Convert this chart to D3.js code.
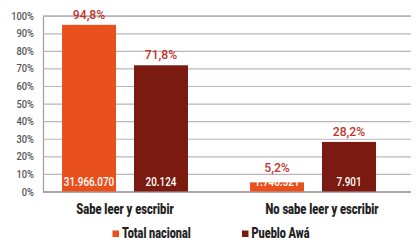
<!DOCTYPE html>
<html><head><meta charset="utf-8">
<script src="https://cdn.jsdelivr.net/npm/d3@7"></script>
<style>
html,body{margin:0;padding:0;background:#fff;}
svg{display:block;font-family:Roboto,"Noto Sans",sans-serif;}
</style></head>
<body>
<svg id="chart" width="417" height="251"></svg>
<script>
const categories = ["Sabe leer y escribir", "No sabe leer y escribir"];
const series = ["Total nacional", "Pueblo Awá"];
const percentTotal = [94.8, 5.2];
const percentAwa = [71.8, 28.2];
const countTotal = ["31.966.070", "1.746.521"];
const countAwa = ["20.124", "7.901"];
const yTicks = [0, 10, 20, 30, 40, 50, 60, 70, 80, 90, 100];
const colors = ["#E8511E", "#7A1A10"];

const svg = d3.select("#chart");
const plotLeft = 43, plotRight = 411, y0 = 191.5, y100 = 15.7;

// condense text horizontally (reference uses a narrow typeface)
function condense(sel, ratio) {
  sel.each(function () {
    const w = this.getComputedTextLength();
    d3.select(this).attr("textLength", w * ratio).attr("lengthAdjust", "spacingAndGlyphs");
  });
}

const y = d3.scaleLinear().domain([0, 100]).range([y0, y100]);
const x0 = d3.scaleBand().domain(categories).range([31, 407]).paddingInner(0.33).paddingOuter(0.165);
const x1 = d3.scaleBand().domain(series).range([0, x0.bandwidth()]).paddingInner(0.25).paddingOuter(0);
const color = d3.scaleOrdinal().domain(series).range(colors);

// gridlines + y axis
const yAxis = d3.axisLeft(y).tickValues(yTicks).tickSize(-(plotRight - plotLeft)).tickFormat(d => d + "%");
const gAxis = svg.append("g").attr("transform", `translate(${plotLeft},0)`).call(yAxis);
gAxis.select(".domain").attr("stroke", "#a89fa6").attr("stroke-width", 1.3);
gAxis.selectAll(".tick line").attr("stroke", "#bdb4b9").attr("stroke-width", 1.2);
gAxis.select(".tick:first-of-type line").attr("stroke", "#a89fa6").attr("stroke-width", 1.3);
const tickText = gAxis.selectAll(".tick text").attr("x", -9).attr("fill", "#555")
  .attr("font-size", 11).attr("font-weight", 500).attr("font-family", "Roboto,'Noto Sans',sans-serif");
condense(tickText, 0.85);

const data = categories.map((c, i) => ({
  cat: c,
  vals: [
    { s: series[0], v: percentTotal[i], n: countTotal[i] },
    { s: series[1], v: percentAwa[i], n: countAwa[i] }
  ]
}));

const groups = svg.selectAll(".grp").data(data).join("g")
  .attr("transform", d => `translate(${x0(d.cat)},0)`);

groups.selectAll("rect").data(d => d.vals).join("rect")
  .attr("x", d => x1(d.s))
  .attr("width", x1.bandwidth())
  .attr("y", d => y(d.v))
  .attr("height", d => y0 - y(d.v))
  .attr("fill", d => color(d.s));

const cntBaseline = 186;
const pct = groups.selectAll(".pct").data(d => d.vals).join("text")
  .attr("class", "pct")
  .attr("x", d => x1(d.s) + x1.bandwidth() / 2)
  .attr("y", d => Math.min(y(d.v) - 6, cntBaseline - 14))
  .attr("text-anchor", "middle")
  .attr("fill", "#C0322E")
  .attr("font-size", 13.5)
  .attr("font-weight", 500)
  .text(d => d.v.toFixed(1).replace(".", ",") + "%");
condense(pct, 0.9);

const cnt = groups.selectAll(".cnt").data(d => d.vals).join("text")
  .attr("class", "cnt")
  .attr("x", d => x1(d.s) + x1.bandwidth() / 2)
  .attr("y", cntBaseline)
  .attr("text-anchor", "middle")
  .attr("fill", "#fff")
  .attr("font-size", 13)
  .attr("font-weight", 500)
  .text(d => d.n);
condense(cnt, 0.76);

// category labels
const cat = svg.selectAll(".cat").data(categories).join("text")
  .attr("x", (d, i) => x0(d) + x0.bandwidth() / 2 + (i === 1 ? 9 : 0))
  .attr("y", 214)
  .attr("text-anchor", "middle")
  .attr("fill", "#222")
  .attr("font-size", 14.5)
  .attr("font-weight", 900)
  .text(d => d);
condense(cat, 0.77);

// legend
const legX = [112.5, 242];
const leg = svg.selectAll(".leg").data(series).join("g")
  .attr("transform", (d, i) => `translate(${legX[i]},230.5)`);
leg.append("rect").attr("width", 6.5).attr("height", 6.5).attr("fill", d => color(d));
const legText = leg.append("text").attr("x", 9.5).attr("y", 7.8)
  .attr("fill", "#222").attr("font-size", 14.5).attr("font-weight", 900)
  .text(d => d);
condense(legText, 0.75);
</script>
</body></html>
